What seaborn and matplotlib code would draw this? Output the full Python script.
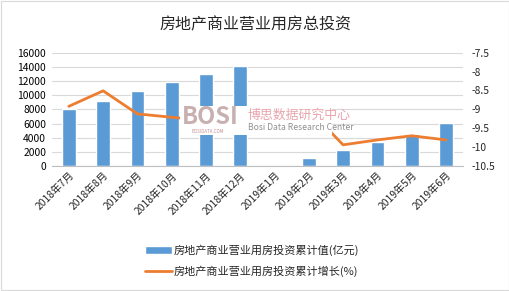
import numpy as np
import pandas as pd
import matplotlib
matplotlib.use("Agg")
import matplotlib.pyplot as plt
from matplotlib.patches import Rectangle
import seaborn as sns

months = ["2018年7月", "2018年8月", "2018年9月", "2018年10月", "2018年11月", "2018年12月",
          "2019年1月", "2019年2月", "2019年3月", "2019年4月", "2019年5月", "2019年6月"]
invest = [8000, 9200, 10600, 11900, 13030, 14160, np.nan, 1170, 2310, 3430, 4520, 6120]
growth = [-8.92, -8.51, -9.12, -9.21, -9.3, -9.4, np.nan, -9.0, -9.94, -9.81, -9.70, -9.81]
left_ticks = [0, 2000, 4000, 6000, 8000, 10000, 12000, 14000, 16000]
right_ticks = [-10.5, -10, -9.5, -9, -8.5, -8, -7.5]
bar_label = "房地产商业营业用房投资累计值(亿元)"
line_label = "房地产商业营业用房投资累计增长(%)"
title = "房地产商业营业用房总投资"

sns.set_style("white")
plt.rcParams["font.family"] = ["Noto Sans CJK SC", "DejaVu Sans"]

df = pd.DataFrame({"month": months, "invest": invest, "growth": growth, "pos": np.arange(len(months))})

fig = plt.figure(figsize=(5.1, 2.91), dpi=100)
ax = fig.add_axes([0.1014, 0.4296, 0.908 - 0.1014, 0.8189 - 0.4296])

sns.barplot(data=df, x="month", y="invest", color="#5B9BD5", saturation=1, width=0.4,
            ax=ax, label=bar_label, zorder=2)
ax.set_ylim(0, 16000)
ax.set_yticks(left_ticks)
ax.set_yticklabels([str(t) for t in left_ticks], fontsize=7.4, color="#000000")
ax.yaxis.grid(True, color="#D9D9D9", linewidth=0.8, zorder=0)
ax.set_axisbelow(True)
ax.set_xlabel("")
ax.set_ylabel("")
ax.set_xlim(-0.5, len(months) - 0.5)
ax.set_xticks(np.arange(len(months)))
ax.set_xticklabels(months, rotation=45, ha="right", rotation_mode="anchor", fontsize=7.4)
ax.set_xticks(np.arange(-0.5, len(months), 1.0), minor=True)
ax.tick_params(axis="x", which="major", length=0, pad=3)
ax.tick_params(axis="x", which="minor", length=4, color="#BFBFBF", width=0.8)
ax.tick_params(axis="y", length=0, pad=4)
for s in ["left", "right", "top"]:
    ax.spines[s].set_visible(False)
ax.spines["bottom"].set_color("#BFBFBF")
ax.spines["bottom"].set_linewidth(0.8)

ax2 = ax.twinx()
sns.lineplot(data=df, x="pos", y="growth", color="#ED7D31", linewidth=2.0, ax=ax2,
             label=line_label, zorder=3)
ax2.set_ylim(-10.5, -7.5)
ax2.set_yticks(right_ticks)
ax2.set_yticklabels([("%g" % t) for t in right_ticks], fontsize=7.4)
ax2.tick_params(axis="y", length=0, pad=6)
ax2.set_ylabel("")
ax2.set_xlabel("")
for s in ["left", "right", "top", "bottom"]:
    ax2.spines[s].set_visible(False)
if ax2.get_legend():
    ax2.get_legend().remove()
if ax.get_legend():
    ax.get_legend().remove()

h1, l1 = ax.get_legend_handles_labels()
h2, l2 = ax2.get_legend_handles_labels()
fig.legend(h1 + h2, l1 + l2, loc="upper left", bbox_to_anchor=(0.275, 0.175),
           frameon=False, fontsize=8, handlelength=2.5, handletextpad=0.1,
           labelspacing=0.9, borderaxespad=0)

fig.text(0.5, 0.914, title, ha="center", va="center", fontsize=11.5)

# watermark
fig.patches.append(Rectangle((180 / 510, 1 - 135 / 291), (332 - 180) / 510, (135 - 106) / 291,
                             transform=fig.transFigure, facecolor="white", edgecolor="none",
                             zorder=5))
fig.text(182 / 510, 1 - 117 / 291, "BOSI", fontsize=17, fontweight="bold", color="#C0A3A3",
         ha="left", va="center", zorder=6, alpha=0.85)
fig.text(208 / 510, 1 - 131.5 / 291, "BOSIDATA.COM", fontsize=3.2, color="#C09090",
         ha="center", va="center", zorder=6)
fig.text(248 / 510, 1 - 115 / 291, "博思数据研究中心", fontsize=9.3, color="#E8A5AC",
         ha="left", va="center", zorder=6)
fig.text(248 / 510, 1 - 128 / 291, "Bosi Data Research Center", fontsize=6.2, color="#8F8F8F",
         ha="left", va="center", zorder=6)

fig.patches.append(Rectangle((0.002, 0.003), 0.996, 0.994, transform=fig.transFigure,
                             facecolor="none", edgecolor="#D9D9D9", linewidth=0.8, zorder=0))

fig.savefig("out.png", dpi=100)
